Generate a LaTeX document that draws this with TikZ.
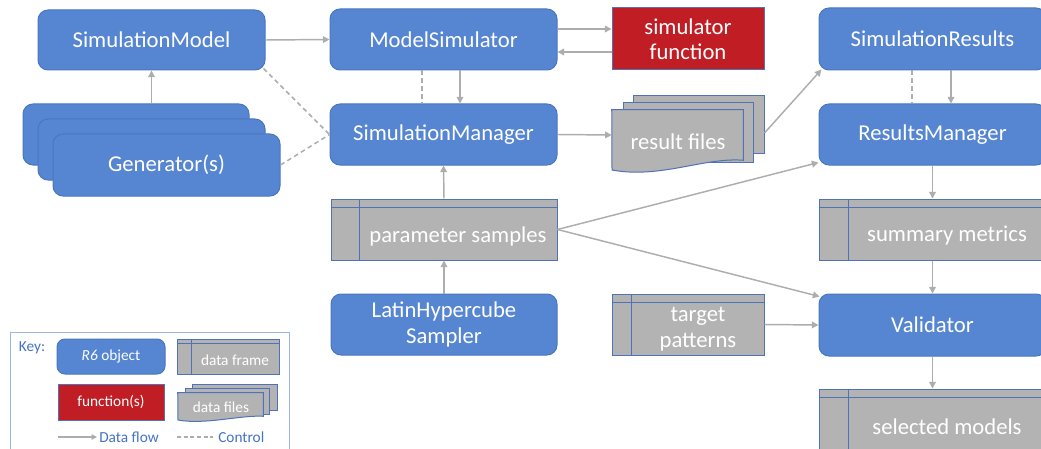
\documentclass[tikz,border=0pt]{standalone}
\usepackage{fontspec}
\setmainfont{Carlito}
\usetikzlibrary{fit,calc,arrows.meta}
\definecolor{rblue}{HTML}{5686D2}
\definecolor{rborder}{HTML}{4A76BE}
\definecolor{fred}{HTML}{C01E24}
\definecolor{dgray}{HTML}{B3B3B3}
\definecolor{fblue}{HTML}{4F72B8}
\definecolor{lgray}{HTML}{ADADAD}
\definecolor{keyblue}{HTML}{4472C4}
\definecolor{keyframe}{HTML}{9DB6E2}
\tikzset{
  r6/.style={draw=rborder, fill=rblue, line width=0.75pt, rounded corners=7.5pt, inner sep=0pt},
  fnbox/.style={draw=fblue, fill=fred, line width=0.75pt, inner sep=0pt},
  dframe/.style 2 args={draw=fblue, fill=dgray, line width=0.75pt, inner sep=0pt,
    path picture={
      \draw[fblue, line width=0.75pt] ([yshift=-#1]path picture bounding box.north west) -- ([yshift=-#1]path picture bounding box.north east);
      \draw[fblue, line width=0.75pt] ([xshift=#2]path picture bounding box.north west) -- ([xshift=#2]path picture bounding box.south west);
    }},
  docpage/.style={draw=fblue, fill=dgray, line width=0.75pt, inner sep=0pt},
  txt/.style={text=white, align=center, inner sep=0pt},
  flow/.style={draw=lgray, line width=1.1pt, -{Triangle[length=5pt,width=5pt]}},
  ctrl/.style={draw=lgray, line width=1.1pt, dash pattern=on 3.5pt off 2.5pt},
  keytxt/.style={text=keyblue, inner sep=0pt},
}
\begin{document}
\begin{tikzpicture}[x=0.75pt, y=-0.75pt, font=\fontsize{17}{19}\selectfont]
\useasboundingbox (0,0) rectangle (1041,449);
\clip (0,0) rectangle (1041,449);

% ---- left column
\node[r6, fit={(38,10) (265,70)}, label={[txt]center:SimulationModel}] (sm) {};
\node[r6, fit={(23,104) (249,165)}] (gen3) {};
\node[r6, fit={(38,119) (265,180)}] (gen2) {};
\node[r6, fit={(53,134) (280,196)}, label={[txt]center:Generator(s)}] (gen1) {};

% ---- middle column
\node[r6, fit={(330,9) (557,70)}, label={[txt]center:ModelSimulator}] (ms) {};
\node[r6, fit={(330,104) (557,165)}, label={[txt]center:SimulationManager}] (smgr) {};
\node[dframe={6pt}{21pt}, fit={(331,199) (557,260)}] (ps) {};
\node[txt] (pst) at (458,236) {parameter samples};
\node[r6, fit={(331,294) (557,355)}, label={[txt]center:LatinHypercube\\Sampler}] (lhs) {};

% ---- third column
\node[fnbox, fit={(612,8) (764,70)}, label={[txt]center:simulator\\function}] (sf) {};
\node[docpage, fit={(633,96) (764,154)}] (rf3) {};
\node[docpage, fit={(623,103) (753,162)}] (rf2) {};
\node[inner sep=0pt, fit={(612,110) (743,160)}] (rf) {};
\draw[docpage] (rf.north west) -- (rf.north east) -- (rf.south east)
  .. controls (705,157) and (660,179) .. (612,170) -- cycle;
\node[txt] (rft) at (678,142) {result files};
\node[dframe={6pt}{14.25pt}, fit={(612,294) (764,355)}] (tp) {};
\node[txt] (tpt) at (698,329) {target\\patterns};

% ---- right column
\node[r6, fit={(819,8) (1046,70)}, label={[txt]center:SimulationResults}] (sres) {};
\node[r6, fit={(819,104) (1046,165)}, label={[txt]center:ResultsManager}] (rm) {};
\node[dframe={6pt}{21.75pt}, fit={(819,199) (1046,260)}] (smet) {};
\node[txt] (smett) at (947,236) {summary metrics};
\node[r6, fit={(819,294) (1046,356)}, label={[txt]center:Validator}] (val) {};
\node[dframe={6pt}{21.75pt}, fit={(819,389) (1046,470)}] (sel) {};
\node[txt] (selt) at (947,427) {selected models};

% ---- connectors
\draw[flow] (sm.east) -- (ms.west);
\draw[flow] (sm.south |- gen3.north) -- (sm.south);
\draw[ctrl] ($(sm.south east)+(-2,-2)$) -- (smgr.west);
\draw[ctrl] (gen1.east) -- (smgr.west);
\draw[flow] ($(ms.east)+(0,-10.5)$) -- ($(sf.west)+(0,-10)$);
\draw[flow] ($(sf.west)+(0,13)$) -- ($(ms.east)+(0,12.5)$);
\draw[ctrl] ($(ms.south)+(-21.5,0)$) -- ($(smgr.north)+(-21.5,0)$);
\draw[flow] ($(ms.south)+(16.5,0)$) -- ($(smgr.north)+(16.5,0)$);
\draw[flow] (smgr.east) -- (rf.west);
\draw[flow] ($(rf3.east)+(0,8)$) -- ($(sres.south west)+(3,-1)$);
\draw[ctrl] ($(sres.south)+(-20.5,0)$) -- ($(rm.north)+(-20.5,0)$);
\draw[flow] ($(sres.south)+(18.5,0)$) -- ($(rm.north)+(18.5,0)$);
\draw[flow] (ps.north) -- (smgr.south);
\draw[flow] (lhs.north) -- (ps.south);
\draw[flow] (ps.east) -- ($(rm.south west)+(0,-3)$);
\draw[flow] (ps.east) -- ($(val.north west)+(1,3)$);
\draw[flow] (rm.south) -- (smet.north -| rm.south);
\draw[flow] (smet.south -| val.north) -- (val.north);
\draw[flow] (tp.east) -- (val.west);
\draw[flow] (val.south) -- (sel.north -| val.south);

% ---- key
\begin{scope}[font=\fontsize{11.5}{13.5}\selectfont]
\draw[keyframe, line width=0.75pt] (10,470) -- (10,332) -- (289,332) -- (289,470);
\node[keytxt] (keyl) at (32,348) {Key:};
\node[r6, rounded corners=6pt, fit={(57,339) (165,374)}, label={[txt]center:\textit{R6} object}] (kr6) {};
\node[dframe={3pt}{10.5pt}, fit={(177,339) (279,374)}] (kdf) {};
\node[txt] (kdft) at (235,360) {data frame};
\node[fnbox, fit={(58,384) (164,420)}, label={[txt]center:function(s)}] (kfn) {};
\node[docpage, fit={(192,384) (277,410)}] (kdf3) {};
\node[docpage, fit={(185,388) (269,414)}] (kdf2) {};
\node[inner sep=0pt, fit={(178,393) (263,416)}] (kdf1) {};
\draw[docpage] (kdf1.north west) -- (kdf1.north east) -- (kdf1.south east)
  .. controls (240,415) and (205,425) .. (178,420) -- cycle;
\node[txt] (kdft1) at (221,407) {data files};
\coordinate (kfa) at (58,437);
\coordinate (kfb) at (97,437);
\draw[flow, line width=0.9pt, -{Triangle[length=4pt,width=4pt]}] (kfa) -- (kfb);
\node[keytxt, anchor=west] (kfl) at (99,437) {Data flow};
\coordinate (kca) at (177,437);
\coordinate (kcb) at (213,437);
\draw[ctrl, line width=0.9pt, dash pattern=on 3pt off 2pt] (kca) -- (kcb);
\node[keytxt, anchor=west] (kcl) at (218,437) {Control};
\end{scope}
\end{tikzpicture}
\end{document}
